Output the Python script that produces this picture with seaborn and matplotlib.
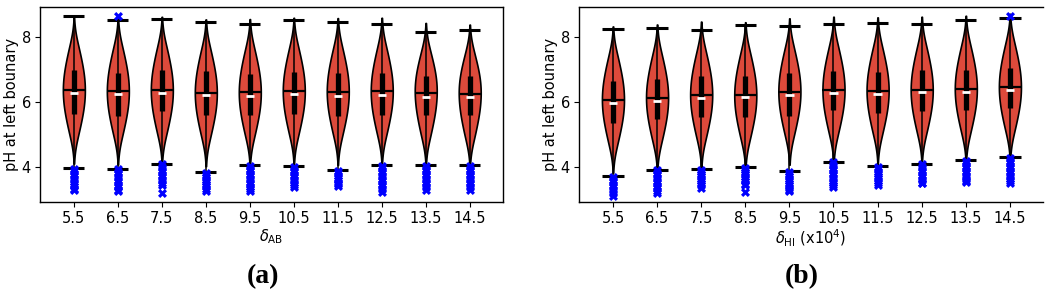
import matplotlib
matplotlib.use("Agg")
import matplotlib.pyplot as plt
import seaborn as sns
import numpy as np
import pandas as pd

# categories (same tick labels on both panels)
cats = ["5.5", "6.5", "7.5", "8.5", "9.5", "10.5", "11.5", "12.5", "13.5", "14.5"]

# ---- panel (a): delta_AB ----
lo_a = [3.97, 3.95, 4.10, 3.84, 4.05, 4.02, 3.89, 4.06, 4.05, 4.05]
hi_a = [8.65, 8.52, 8.56, 8.47, 8.39, 8.52, 8.45, 8.40, 8.16, 8.22]
q1_a = [5.64, 5.57, 5.72, 5.59, 5.59, 5.64, 5.56, 5.61, 5.59, 5.59]
med_a = [6.27, 6.23, 6.27, 6.21, 6.18, 6.23, 6.19, 6.22, 6.15, 6.15]
q3_a = [6.98, 6.88, 6.98, 6.95, 6.85, 6.93, 6.90, 6.88, 6.81, 6.81]
mean_a = [6.36, 6.33, 6.36, 6.28, 6.29, 6.33, 6.32, 6.33, 6.28, 6.23]
# points the violin outline is estimated from (bottom -> top)
v1_a = [5.08, 5.05, 5.08, 5.00, 5.01, 5.05, 5.04, 5.05, 5.00, 4.95]
v2_a = [5.55, 5.52, 5.55, 5.47, 5.48, 5.52, 5.51, 5.52, 5.47, 5.42]
v3_a = [5.83, 5.80, 5.83, 5.75, 5.76, 5.80, 5.79, 5.80, 5.75, 5.70]
v4_a = [6.11, 6.08, 6.11, 6.03, 6.04, 6.08, 6.07, 6.08, 6.03, 5.98]
v5_a = [6.36, 6.33, 6.36, 6.28, 6.29, 6.33, 6.32, 6.33, 6.28, 6.23]
v6_a = [6.61, 6.58, 6.61, 6.53, 6.54, 6.58, 6.57, 6.58, 6.52, 6.47]
v7_a = [6.89, 6.86, 6.89, 6.81, 6.82, 6.86, 6.85, 6.86, 6.78, 6.73]
v8_a = [7.17, 7.14, 7.17, 7.09, 7.10, 7.14, 7.13, 7.14, 7.04, 6.99]
v9_a = [7.64, 7.61, 7.64, 7.56, 7.57, 7.61, 7.60, 7.61, 7.48, 7.43]
outl_a = [
    [3.95, 3.87, 3.79, 3.71, 3.63, 3.55, 3.47, 3.40, 3.33, 3.28],
    [3.93, 3.85, 3.77, 3.69, 3.61, 3.53, 3.45, 3.37, 3.30, 3.25, 8.63],
    [4.08, 4.00, 3.92, 3.84, 3.76, 3.68, 3.60, 3.52, 3.45, 3.19],
    [3.82, 3.75, 3.68, 3.61, 3.54, 3.47, 3.40, 3.33, 3.25],
    [4.03, 3.95, 3.87, 3.79, 3.71, 3.63, 3.55, 3.47, 3.39, 3.32, 3.25],
    [4.00, 3.92, 3.84, 3.76, 3.68, 3.60, 3.52, 3.45, 3.38],
    [3.87, 3.80, 3.73, 3.66, 3.59, 3.52, 3.46, 3.40],
    [4.04, 3.96, 3.88, 3.80, 3.72, 3.64, 3.56, 3.48, 3.40, 3.31, 3.22],
    [4.03, 3.95, 3.87, 3.79, 3.71, 3.63, 3.55, 3.47, 3.39, 3.28],
    [4.03, 3.95, 3.87, 3.79, 3.71, 3.63, 3.55, 3.47, 3.38, 3.30],
]

# ---- panel (b): delta_HI (x10^4) ----
lo_b = [3.71, 3.92, 3.94, 4.00, 3.87, 4.16, 4.02, 4.10, 4.22, 4.30]
hi_b = [8.25, 8.28, 8.22, 8.39, 8.34, 8.40, 8.45, 8.40, 8.53, 8.61]
q1_b = [5.36, 5.47, 5.53, 5.53, 5.56, 5.75, 5.67, 5.72, 5.76, 5.83]
med_b = [5.98, 6.03, 6.12, 6.15, 6.22, 6.30, 6.26, 6.31, 6.33, 6.39]
q3_b = [6.65, 6.71, 6.81, 6.80, 6.91, 6.96, 6.93, 7.00, 6.98, 7.05]
mean_b = [6.08, 6.14, 6.23, 6.21, 6.33, 6.38, 6.36, 6.38, 6.41, 6.47]
v1_b = [4.80, 4.86, 4.95, 4.93, 5.05, 5.10, 5.08, 5.10, 5.13, 5.19]
v2_b = [5.27, 5.33, 5.42, 5.40, 5.52, 5.57, 5.55, 5.57, 5.60, 5.66]
v3_b = [5.55, 5.61, 5.70, 5.68, 5.80, 5.85, 5.83, 5.85, 5.88, 5.94]
v4_b = [5.83, 5.89, 5.98, 5.96, 6.08, 6.13, 6.11, 6.13, 6.16, 6.22]
v5_b = [6.08, 6.14, 6.23, 6.21, 6.33, 6.38, 6.36, 6.38, 6.41, 6.47]
v6_b = [6.33, 6.39, 6.48, 6.46, 6.58, 6.63, 6.61, 6.63, 6.66, 6.72]
v7_b = [6.61, 6.67, 6.76, 6.74, 6.86, 6.91, 6.89, 6.91, 6.94, 7.00]
v8_b = [6.89, 6.95, 7.04, 7.02, 7.14, 7.19, 7.17, 7.19, 7.22, 7.28]
v9_b = [7.36, 7.42, 7.51, 7.49, 7.61, 7.66, 7.64, 7.66, 7.69, 7.75]
outl_b = [
    [3.69, 3.61, 3.53, 3.45, 3.37, 3.29, 3.21, 3.12],
    [3.90, 3.82, 3.74, 3.66, 3.58, 3.50, 3.42, 3.34, 3.27, 3.20],
    [3.92, 3.85, 3.78, 3.71, 3.64, 3.57, 3.50, 3.43, 3.36],
    [3.98, 3.91, 3.84, 3.77, 3.70, 3.63, 3.56, 3.49, 3.43, 3.23],
    [3.85, 3.78, 3.71, 3.64, 3.57, 3.50, 3.43, 3.36, 3.30, 3.26],
    [4.14, 4.06, 3.98, 3.90, 3.82, 3.74, 3.66, 3.58, 3.50, 3.43, 3.39],
    [4.00, 3.93, 3.86, 3.79, 3.72, 3.65, 3.58, 3.51, 3.44],
    [4.08, 4.00, 3.92, 3.84, 3.76, 3.68, 3.60, 3.52, 3.50],
    [4.20, 4.12, 4.04, 3.96, 3.88, 3.80, 3.72, 3.64, 3.57, 3.53],
    [4.28, 4.20, 4.12, 4.04, 3.96, 3.88, 3.80, 3.72, 3.64, 3.57, 3.50, 8.66],
]

RED = "#dd4a3b"
BLUE = "#0000ff"


def draw_panel(ax, vpts, lo, hi, q1, med, q3, mean, outl, xlabel):
    # long table for the violins
    rows = []
    for vs in vpts:
        for i, c in enumerate(cats):
            rows.append((c, vs[i]))
    df = pd.DataFrame(rows, columns=["delta", "pH"])
    sns.violinplot(data=df, x="delta", y="pH", order=cats, ax=ax,
                   color=RED, saturation=1, inner=None, width=0.5,
                   density_norm="width", cut=2.2, bw_adjust=0.85,
                   linecolor="black", linewidth=1.2)

    pos = np.arange(len(cats))
    ax.vlines(pos, lo, hi, color="black", lw=1.1, zorder=3)
    ax.vlines(pos, q1, q3, color="black", lw=3.8, zorder=3)
    ax.hlines(mean, pos - 0.25, pos + 0.25, color="black", lw=1.6, zorder=3)
    ax.hlines(lo, pos - 0.24, pos + 0.24, color="black", lw=2.2, zorder=3)
    ax.hlines(hi, pos - 0.24, pos + 0.24, color="black", lw=2.2, zorder=3)
    ax.hlines(med, pos - 0.095, pos + 0.095, color="white", lw=2.0, zorder=4)

    orow = [(c, v) for c, vals in zip(cats, outl) for v in vals]
    odf = pd.DataFrame(orow, columns=["delta", "pH"])
    sns.stripplot(data=odf, x="delta", y="pH", order=cats, ax=ax,
                  jitter=False, marker="X", color=BLUE, size=6.5,
                  linewidth=0, zorder=5)

    ax.set_xlim(-0.77, 9.75)
    ax.set_ylim(2.92, 8.93)
    ax.set_yticks([4, 6, 8])
    ax.set_xlabel(xlabel, fontsize=10.5, labelpad=1)
    ax.set_ylabel("pH at left bounary", fontsize=10.5, labelpad=2)
    ax.tick_params(bottom=True, left=True, labelsize=10.5, length=3.5,
                   width=0.8, pad=3, colors="black")
    for s in ax.spines.values():
        s.set_linewidth(1.0)
        s.set_color("black")


sns.set_style("ticks")
plt.rcParams["font.family"] = ["DejaVu Sans"]
plt.rcParams["text.color"] = "black"
plt.rcParams["axes.labelcolor"] = "black"

fig = plt.figure(figsize=(10.5, 2.99), dpi=100)
ax_a = fig.add_axes([40 / 1050, 1 - 202 / 299, 462.7 / 1050, 195.3 / 299])
ax_b = fig.add_axes([579 / 1050, 1 - 202 / 299, 464 / 1050, 194.7 / 299])

draw_panel(ax_a, [v1_a, v2_a, v3_a, v4_a, v5_a, v6_a, v7_a, v8_a, v9_a],
           lo_a, hi_a, q1_a, med_a, q3_a, mean_a, outl_a,
           r"$\delta_{\mathrm{AB}}$")
draw_panel(ax_b, [v1_b, v2_b, v3_b, v4_b, v5_b, v6_b, v7_b, v8_b, v9_b],
           lo_b, hi_b, q1_b, med_b, q3_b, mean_b, outl_b,
           r"$\delta_{\mathrm{HI}}$ (x10$^4$)")
ax_b.spines["right"].set_visible(False)

fig.text(263 / 1050, 1 - 277 / 299, "(a)", ha="center", va="center",
         fontsize=20, fontweight="bold", family=["Liberation Serif"])
fig.text(802 / 1050, 1 - 277 / 299, "(b)", ha="center", va="center",
         fontsize=20, fontweight="bold", family=["Liberation Serif"])

fig.savefig("out.png", dpi=100)
